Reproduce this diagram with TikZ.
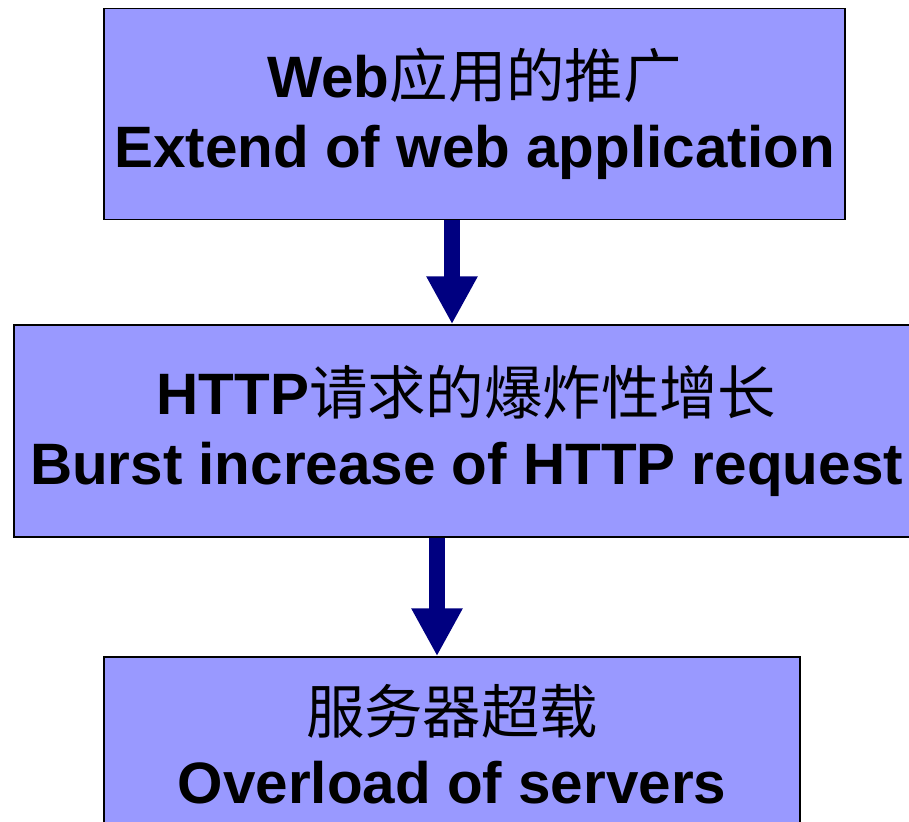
\documentclass[tikz,border=0pt]{standalone}
\usepackage{fontspec}
\setmainfont{Liberation Sans}
\newfontfamily\cjk{Noto Sans CJK SC}
\usetikzlibrary{arrows.meta}

\definecolor{boxfill}{HTML}{9999FF}
\definecolor{arrownavy}{HTML}{000080}

\tikzset{
  stagebox/.style={draw, line width=1.5pt, fill=boxfill, rectangle,
    inner sep=0pt, align=center,
    font=\fontsize{58.4}{70.5}\selectfont\bfseries},
  flow/.style={arrownavy, line width=16pt,
    -{Triangle[width=48pt, length=48pt]}}
}

\begin{document}
\begin{tikzpicture}[x=1pt, y=-1pt]
\clip (0,0) rectangle (909,821);
\useasboundingbox (0,0) rectangle (909,821);
\fill[white] (0,0) rectangle (909,821);

\node[stagebox, 
   minimum width=741pt, 
   minimum height=211pt] (web) at (474.5,114) 
  {Web{\cjk\mdseries 应用的推广}\\ 
     Extend of web application};
\node[stagebox, 
   minimum width=905pt, 
   minimum height=212pt] (http) at (466.5,431) 
  {HTTP{\cjk\mdseries 请求的爆炸性增长}\\ 
     Burst increase of HTTP request};
\node[stagebox, 
   minimum width=696pt, 
   minimum height=174pt] (server) at (452,744) 
  {{\cjk\mdseries 服务器超载}\\ 
     Overload of servers};

\draw[flow] ([xshift=-22.5pt]web.south) -- ([xshift=-14.5pt]http.north);
\draw[flow] ([xshift=-29.5pt]http.south) -- ([xshift=-15pt]server.north);
\end{tikzpicture}
\end{document}
